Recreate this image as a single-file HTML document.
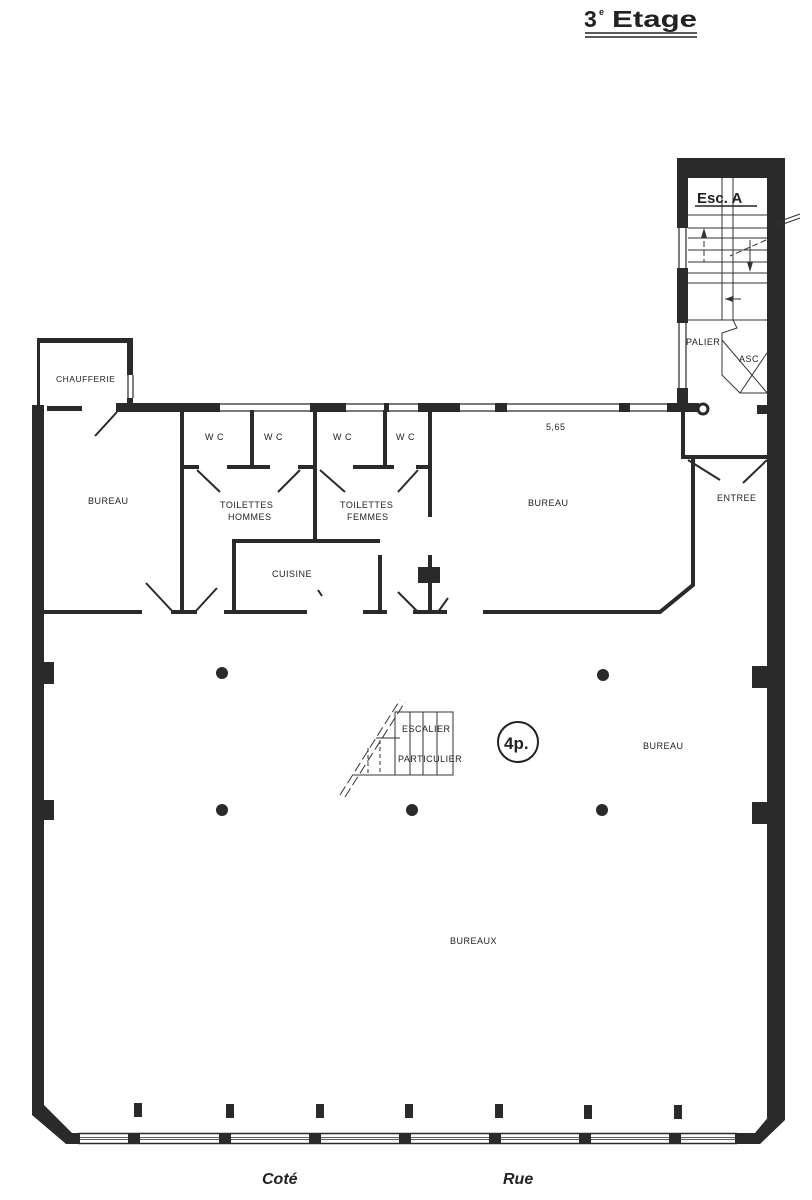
<!DOCTYPE html>
<html><head><meta charset="utf-8"><style>
html,body{margin:0;padding:0;background:#fff;}
svg{display:block;}
text{font-family:"Liberation Sans",sans-serif;fill:#222;}
.l{font-size:9px;letter-spacing:0.5px;}
</style></head><body>
<svg width="812" height="1200" viewBox="0 0 812 1200" xmlns="http://www.w3.org/2000/svg">
<rect width="812" height="1200" fill="#fff"/>
<!-- Title -->
<text x="584" y="27" font-size="23" font-weight="bold">3</text>
<text x="599" y="15" font-size="9" font-weight="bold">e</text>
<text x="612" y="27" font-size="23" font-weight="bold" textLength="85" lengthAdjust="spacingAndGlyphs">Etage</text>
<line x1="585" y1="33" x2="697" y2="33" stroke="#222" stroke-width="1.5"/>
<line x1="585" y1="37" x2="697" y2="37" stroke="#222" stroke-width="1.5"/>

<g fill="#2a2a2a">
<!-- stair tower -->
<rect x="677" y="158" width="108" height="20"/>
<rect x="767" y="158" width="18" height="960"/>
<rect x="677" y="158" width="11" height="70"/>
<rect x="677" y="268" width="11" height="55"/>
<rect x="677" y="388" width="11" height="24"/>
<!-- left outer wall -->
<rect x="32" y="405" width="12" height="700"/>
<!-- pilasters -->
<rect x="44" y="662" width="10" height="22"/>
<rect x="44" y="800" width="10" height="20"/>
<rect x="752" y="666" width="15" height="22"/>
<rect x="752" y="802" width="15" height="22"/>
<!-- chaufferie -->
<rect x="37" y="338" width="96" height="5"/>
<rect x="127" y="338" width="6" height="37"/>
<rect x="127" y="398" width="6" height="10"/>
<rect x="37" y="338" width="3" height="70"/>
<!-- top wall solids -->
<rect x="116" y="403" width="104" height="9"/>
<rect x="310" y="403" width="36" height="9"/>
<rect x="384" y="403" width="5" height="9"/>
<rect x="418" y="403" width="42" height="9"/>
<rect x="495" y="403" width="12" height="9"/>
<rect x="619" y="403" width="11" height="9"/>
<rect x="667" y="403" width="32" height="9"/>
<rect x="757" y="405" width="12" height="9"/>
<rect x="47" y="406" width="35" height="5"/>
<!-- bottom corners -->
<polygon points="32,1105 44,1105 72,1133 80,1133 80,1144 66,1144 32,1115"/>
<polygon points="785,1115 785,1120 760,1144 735,1144 735,1133 755,1133 770,1115"/>
<!-- piers -->
<g>
<rect x="128" y="1133" width="12" height="11"/><rect x="219" y="1133" width="12" height="11"/><rect x="309" y="1133" width="12" height="11"/><rect x="399" y="1133" width="12" height="11"/><rect x="489" y="1133" width="12" height="11"/><rect x="579" y="1133" width="12" height="11"/><rect x="669" y="1133" width="12" height="11"/>
<rect x="134" y="1103" width="8" height="14"/><rect x="226" y="1104" width="8" height="14"/><rect x="316" y="1104" width="8" height="14"/><rect x="405" y="1104" width="8" height="14"/><rect x="495" y="1104" width="8" height="14"/><rect x="584" y="1105" width="8" height="14"/><rect x="674" y="1105" width="8" height="14"/>
</g>
<!-- columns -->
<circle cx="222" cy="673" r="6"/><circle cx="603" cy="675" r="6"/>
<circle cx="222" cy="810" r="6"/><circle cx="412" cy="810" r="6"/><circle cx="602" cy="810" r="6"/>
<rect x="418" y="567" width="22" height="16"/>
</g>
<!-- bottom windows -->
<g stroke="#2a2a2a" fill="none">
<path d="M78 1133.5H737M78 1143.5H737" stroke-width="1.5"/>
<path d="M78 1137.5H737M78 1139.5H737" stroke-width="0.8"/>
</g>
<!-- top windows double lines -->
<g stroke="#2a2a2a" stroke-width="1.2" fill="none">
<path d="M220 404H310M220 411H310M346 404H384M346 411H384M389 404H418M389 411H418M460 404H495M460 411H495M507 404H619M507 411H619M630 404H667M630 411H667"/>
<path d="M128 375V398M133 375V398"/>
<path d="M679 228V268M686 228V268M679 323V388M686 323V388"/>
</g>
<circle cx="703" cy="409" r="5" fill="#fff" stroke="#2a2a2a" stroke-width="3"/>

<!-- interior walls -->
<g stroke="#2a2a2a" stroke-width="4" fill="none" stroke-linecap="square">
<path d="M182 412V612M252 412V467M229 467H268M315 412V540M385 412V467M355 467H392M430 412V515"/>
<path d="M183 467H197M300 467H315M418 467H430"/>
<path d="M234 541H378M234 541V612M226 612H305M380 557V612M365 612H385M430 557V612M415 612H445"/>
<path d="M45 612H140M173 612H195M485 612H660L693 585V460M683 412V457H767"/>
</g>
<!-- door swings -->
<g stroke="#2a2a2a" stroke-width="2" fill="none">
<path d="M117 412L95 436M146 583L173 612M217 588L195 612M197 470L220 492M300 470L278 492M320 470L345 492M418 470L398 492M318 590L322 596M398 592L418 612M448 598L438 612M688 460L720 480M767 460L743 483"/>
</g>
<!-- stairs Esc A -->
<g stroke="#333" stroke-width="1" fill="none">
<path d="M688 215H767M688 228H767M688 238H767M688 250H767M688 262H767M688 273H767M688 283H767M688 320H767"/>
<path d="M722 178V320M733 178V320"/>
<path d="M733 320L737 328L722 333V375L740 393H769M722 340L769 395M740 393L769 350"/>
<path d="M704 232V262M766 240L730 256" stroke-dasharray="6,3"/>
<path d="M750 240V268M725 299H741"/>
<path d="M775 223L800 214M775 227L800 218"/>
</g>
<polygon points="704,228 701,238 707,238" fill="#333"/>
<polygon points="750,272 747,262 753,262" fill="#333"/>
<polygon points="725,299 733,296 733,302" fill="#333"/>
<text x="697" y="203" font-size="15" font-weight="bold">Esc. A</text>
<line x1="695" y1="206" x2="757" y2="206" stroke="#222" stroke-width="1.5"/>

<!-- escalier particulier -->
<g stroke="#333" stroke-width="1" fill="none">
<rect x="395" y="712" width="58" height="63"/>
<path d="M410 712V775M423 712V775M437 712V775M353 775H395M400 738H376"/>
<path d="M340 795L400 700M345 797L405 702" stroke-dasharray="10,4"/>
<path d="M368 748V775M380 740V775" stroke-dasharray="4,3"/>
</g>
<circle cx="518" cy="742" r="20" fill="#fff" stroke="#222" stroke-width="2"/>
<text x="504" y="749" font-size="17" font-weight="bold">4p.</text>

<!-- labels -->
<g class="l">
<text x="56" y="382" font-size="8.5">CHAUFFERIE</text>
<text x="88" y="504">BUREAU</text>
<text x="205" y="440">W C</text><text x="264" y="440">W C</text><text x="333" y="440">W C</text><text x="396" y="440">W C</text>
<text x="220" y="508">TOILETTES</text><text x="228" y="520">HOMMES</text>
<text x="340" y="508">TOILETTES</text><text x="347" y="520">FEMMES</text>
<text x="272" y="577">CUISINE</text>
<text x="528" y="506">BUREAU</text>
<text x="546" y="430">5,65</text>
<text x="717" y="501">ENTREE</text>
<text x="686" y="345">PALIER</text>
<text x="739" y="362">ASC</text>
<text x="402" y="732">ESCALIER</text>
<text x="398" y="762">PARTICULIER</text>
<text x="643" y="749">BUREAU</text>
<text x="450" y="944">BUREAUX</text>
</g>
<text x="262" y="1184" font-size="16" font-weight="bold" font-style="italic">Coté</text>
<text x="503" y="1184" font-size="16" font-weight="bold" font-style="italic">Rue</text>
</svg>
</body></html>
